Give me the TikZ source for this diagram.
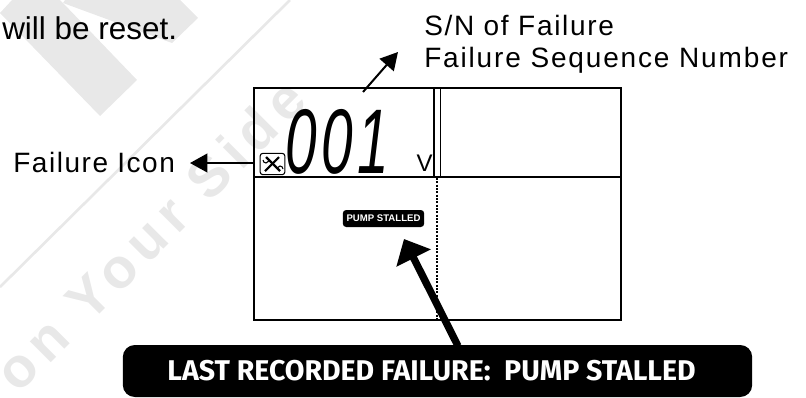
\documentclass[tikz,border=0pt]{standalone}
\usepackage{fontspec}
\setmainfont{Liberation Sans}
\newfontfamily\condfont{Fira Sans}
\usetikzlibrary{arrows.meta}
\definecolor{wm}{gray}{0.91}
\tikzset{
  ink/.style={draw=black,line width=1.5pt},
  lbl/.style={font=\fontsize{21}{24}\selectfont,inner sep=0pt,anchor=base west},
  pt/.style={-{Triangle[length=13pt,width=14pt]},line width=1.5pt}
}
\begin{document}
\begin{tikzpicture}[x=0.75pt,y=-0.75pt]
\useasboundingbox (0,0) rectangle (806,397);
% watermark
\fill[wm] (0,13) -- (100,116) -- (137,80) -- (63,3) -- (60,0) -- (12,0) -- cycle;
\fill[wm] (63,3) -- (172,43) -- (198,18) -- (180,0) -- (65,0) -- cycle;
\draw[wm,line width=2pt] (290,0) -- (0,287);
\node[font=\fontsize{42}{44}\selectfont\bfseries,text=wm,rotate=45,inner sep=0pt] (wmark) at (150,235) {\addfontfeature{LetterSpace=14}on Your Side};
% text
\node[lbl,font=\fontsize{23.6}{26}\selectfont] (reset) at (2,39) {will be reset.};
\node[lbl] (sn) at (424,35) {\addfontfeature{LetterSpace=6}S/N of Failure};
\node[lbl] (seq) at (424,67) {\addfontfeature{LetterSpace=6.6}Failure Sequence Number};
\node[lbl] (icon) at (13,172) {\addfontfeature{LetterSpace=5.5}Failure Icon};
% LCD frame
\draw[ink] (254,88) rectangle (621,320);
\draw[ink] (254,177) -- (621,177);
\draw[draw=black,line width=1.2pt] (434,88) -- (434,177);
\draw[draw=black,line width=1.2pt] (440.5,88) -- (440.5,177);
\draw[black,line width=0.8pt,dash pattern=on 1.5pt off 1pt] (437,178) -- (437,320);
% digits
\node[font=\fontsize{71}{73}\selectfont\itshape,inner sep=0pt,xscale=0.6,yscale=0.97,anchor=base,text=black] (digits) at (337,173) {\addfontfeature{LetterSpace=8}001};
\node[font=\fontsize{18}{19}\selectfont,inner sep=0pt,anchor=base] (volt) at (424.5,171.5) {V};
% icon
\node[draw=black,line width=0.8pt,rounded corners=2pt,minimum width=18.5pt,minimum height=16pt,inner sep=0pt] (wrench) at (272.5,164) {};
\draw[line width=1.6pt] (266,157) -- (280,171);
\draw[line width=1.6pt] (279,157) -- (265,171);
\draw[line width=0.8pt] (263,160) arc (180:20:3);
\draw[line width=0.8pt] (283,169) arc (0:-160:3);
% chip
\node[fill=black,text=white,rounded corners=2.5pt,inner sep=0pt,minimum width=61pt,minimum height=12.75pt,font=\fontsize{7.2}{8}\bfseries] (chip) at (383.5,218.5) {PUMP STALLED};
% callout
\node[fill=black,text=white,rounded corners=9pt,inner sep=0pt,minimum width=472pt,minimum height=39pt,font=\fontsize{21.4}{24}\condfont\bfseries] (bar) at (437.5,371) {LAST RECORDED FAILURE:\ \ PUMP STALLED\hspace{9pt}\null};
% arrows
\coordinate (aq) at (363,92);
\coordinate (ah) at (398,52);
\draw[pt] (aq) -- (ah);
\coordinate (ic) at (254,163);
\coordinate (id) at (190,163);
\draw[pt] (ic) -- (id);
\coordinate (ba) at (458,346);
\coordinate (bb) at (404,239);
\draw[-{Triangle[length=16pt,width=28pt]},line width=5.5pt] (ba) -- (bb);
\end{tikzpicture}
\end{document}
